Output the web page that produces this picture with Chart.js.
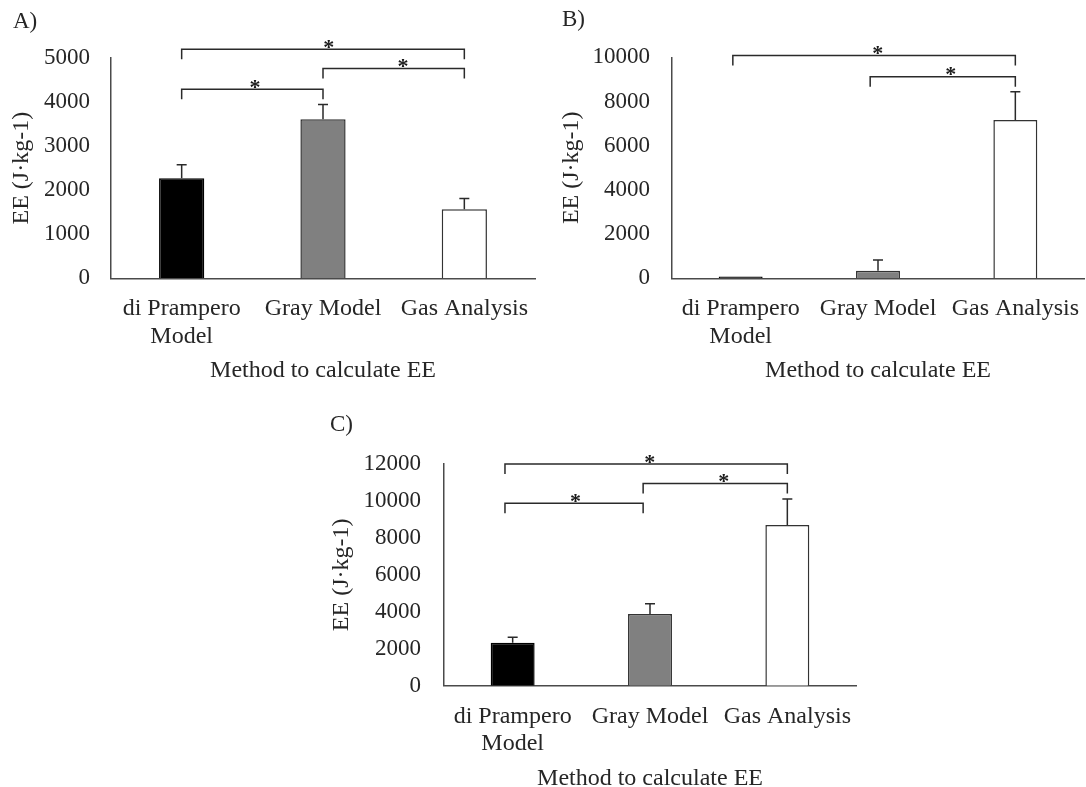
<!DOCTYPE html>
<html><head><meta charset="utf-8">
<script src="https://cdn.jsdelivr.net/npm/chart.js@4.4.0/dist/chart.umd.min.js"></script>
<style>
html,body{margin:0;padding:0;background:#fff;width:1086px;height:787px;overflow:hidden;position:relative}
canvas{position:absolute}
</style></head><body>
<canvas id="cA" width="543" height="400" style="left:0px;top:0px"></canvas>
<canvas id="cB" width="537" height="400" style="left:550px;top:0px"></canvas>
<canvas id="cC" width="560" height="400" style="left:320px;top:410px"></canvas>
<script>
// ---- data ----
const categories = [['di Prampero', 'Model'], 'Gray Model', 'Gas Analysis'];
const xTitle = 'Method to calculate EE';
const yTitle = 'EE (J\u00B7kg-1)';

const meansA = [2270, 3610, 1570];
const sdA    = [310, 335, 240];
const ticksA = [0, 1000, 2000, 3000, 4000, 5000];
const bracketsA = [ // [from category, to category, level in J·kg-1]
  [0, 2, 5200],
  [1, 2, 4760],
  [0, 1, 4290]
];

const meansB = [80, 340, 7160];
const sdB    = [0, 490, 1280];
const ticksB = [0, 2000, 4000, 6000, 8000, 10000];
const bracketsB = [
  [-0.057, 2, 10080],
  [0.943, 2, 9120]
];

const meansC = [2330, 3880, 8700];
const sdC    = [290, 560, 1400];
const ticksC = [0, 2000, 4000, 6000, 8000, 10000, 12000];
const bracketsC = [
  [-0.056, 2, 12000],
  [0.95, 2, 10950],
  [-0.056, 0.95, 9870]
];

// ---- style ----
const FONT = "'Liberation Serif', 'Times New Roman', Times, serif";
const TEXT = '#262626';
const AXIS = '#4a4a4a';
const LINE = '#2a2a2a';
const barFill = ['#000000', '#808080', '#ffffff'];
const barBorder = ['#000000', '#333333', '#333333'];

const errorBars = {
  id: 'errorBars',
  afterDatasetsDraw(chart) {
    const ds = chart.data.datasets[0];
    const meta = chart.getDatasetMeta(0);
    const y = chart.scales.y;
    const ctx = chart.ctx;
    ctx.save();
    ctx.strokeStyle = LINE;
    ctx.lineWidth = 1.5;
    meta.data.forEach((bar, i) => {
      const sd = ds.errors[i];
      if (!sd) return;
      const yb = y.getPixelForValue(ds.data[i]);
      const yt = y.getPixelForValue(ds.data[i] + sd);
      ctx.beginPath();
      ctx.moveTo(bar.x, yb); ctx.lineTo(bar.x, yt);
      ctx.moveTo(bar.x - 5, yt); ctx.lineTo(bar.x + 5, yt);
      ctx.stroke();
    });
    ctx.restore();
  }
};

const brackets = {
  id: 'brackets',
  afterDraw(chart, args, opts) {
    const x = chart.scales.x, y = chart.scales.y, ctx = chart.ctx;
    ctx.save();
    ctx.strokeStyle = LINE;
    ctx.fillStyle = '#1a1a1a';
    ctx.lineWidth = 1.5;
    ctx.font = 'bold 22px ' + FONT;
    ctx.textAlign = 'center';
    ctx.textBaseline = 'alphabetic';
    (opts.items || []).forEach((b, i) => {
      const x1 = x.getPixelForValue(b[0]);
      const x2 = x.getPixelForValue(b[1]);
      const yy = y.getPixelForValue(b[2]);
      ctx.beginPath();
      ctx.moveTo(x1, yy + opts.leg); ctx.lineTo(x1, yy); ctx.lineTo(x2, yy); ctx.lineTo(x2, yy + opts.leg);
      ctx.stroke();
      ctx.fillText('*', (x1 + x2) / 2 + (opts.starShift[i] || 0), yy + 4.5);
    });
    ctx.restore();
  }
};

const panel = {
  id: 'panel',
  afterDraw(chart, args, opts) {
    const ctx = chart.ctx;
    ctx.save();
    ctx.fillStyle = TEXT;
    ctx.font = '23px ' + FONT;
    ctx.textAlign = 'left';
    ctx.textBaseline = 'middle';
    ctx.fillText(opts.text, opts.x, opts.y);
    ctx.restore();
  }
};

function makeChart(id, cfg) {
  const canvas = document.getElementById(id);
  const W = canvas.width, H = canvas.height;
  const f = { family: FONT, size: 24, lineHeight: 1.14 };
  const ft = { family: FONT, size: 23, lineHeight: 1.14 };
  return new Chart(canvas.getContext('2d'), {
    type: 'bar',
    data: {
      labels: categories,
      datasets: [{
        data: cfg.means,
        errors: cfg.sd,
        backgroundColor: barFill,
        borderColor: barBorder,
        borderWidth: 1.5,
        barPercentage: 0.32,
        categoryPercentage: 1
      }]
    },
    options: {
      responsive: false,
      animation: false,
      layout: { padding: { left: 0, top: cfg.area.top, right: W - cfg.area.right, bottom: 0 } },
      plugins: {
        legend: { display: false },
        tooltip: { enabled: false },
        brackets: { items: cfg.brackets, leg: 10, starShift: cfg.starShift },
        panel: cfg.panel
      },
      scales: {
        x: {
          grid: { display: false, drawTicks: false },
          border: { display: true, color: AXIS, width: 1.5 },
          ticks: { color: TEXT, font: f, padding: 17.2, autoSkip: false, maxRotation: 0 },
          title: { display: true, text: xTitle, color: TEXT, font: f, padding: { top: 0, bottom: cfg.xTitlePad } },
          afterFit: s => { s.height = H - cfg.area.bottom; s.paddingLeft = 0; s.paddingRight = 0; }
        },
        y: {
          min: 0, max: cfg.ticks[cfg.ticks.length - 1],
          grid: { display: false, drawTicks: false },
          border: { display: true, color: AXIS, width: 1.5 },
          ticks: { color: TEXT, font: ft, padding: cfg.tickPad, callback: v => String(v) },
          afterBuildTicks: s => { s.ticks = cfg.ticks.map(v => ({ value: v })); },
          title: { display: true, text: yTitle, color: TEXT, font: f, padding: { top: 8.5, bottom: 0 } },
          afterFit: s => { s.width = cfg.area.left; }
        }
      }
    },
    plugins: [errorBars, brackets, panel]
  });
}

makeChart('cA', {
  means: meansA, sd: sdA, ticks: ticksA, brackets: bracketsA,
  starShift: [5.7, 9.4, 2.7],
  area: { left: 111, right: 535, top: 58, bottom: 278.3 },
  tickPad: 21, xTitlePad: 15.6,
  panel: { text: 'A)', x: 13, y: 22 }
});
makeChart('cB', {
  means: meansB, sd: sdB, ticks: ticksB, brackets: bracketsB,
  starShift: [3.7, 8],
  area: { left: 122, right: 534, top: 57.3, bottom: 278.3 },
  tickPad: 22, xTitlePad: 15.6,
  panel: { text: 'B)', x: 12, y: 20 }
});
makeChart('cC', {
  means: meansC, sd: sdC, ticks: ticksC, brackets: bracketsC,
  starShift: [3.6, 8.4, 1.5],
  area: { left: 124, right: 536, top: 54, bottom: 275.7 },
  tickPad: 23, xTitlePad: 17.6,
  panel: { text: 'C)', x: 10, y: 15 }
});
</script>
</body></html>
